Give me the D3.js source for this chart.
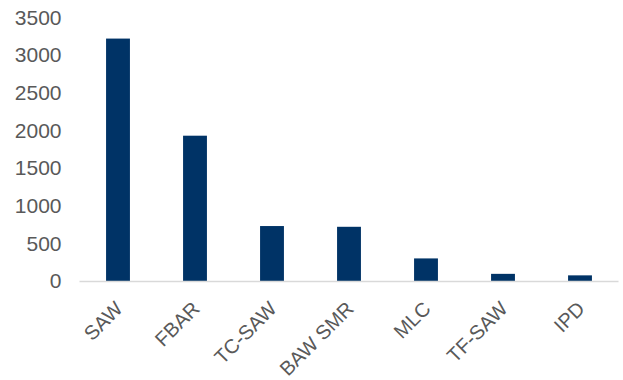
<!DOCTYPE html>
<html>
<head>
<meta charset="utf-8">
<script src="https://cdn.jsdelivr.net/npm/d3@7"></script>
<style>
  html, body { margin: 0; padding: 0; background: #fff; }
  svg { display: block; }
  text { font-family: "Liberation Sans", Arial, sans-serif; fill: #595959; }
</style>
</head>
<body>
<svg id="chart" width="623" height="380"></svg>
<script>
// Filter technologies and their values
const categories = ["SAW", "FBAR", "TC-SAW", "BAW SMR", "MLC", "TF-SAW", "IPD"];
const values = [3220, 1930, 730, 720, 300, 95, 75];
const yTicks = [0, 500, 1000, 1500, 2000, 2500, 3000, 3500];

const svg = d3.select("#chart");
const margin = { left: 79.5, right: 4.5, top: 17.5, bottom: 99 };
const W = 623, H = 380;

const x = d3.scaleBand()
  .domain(categories)
  .range([margin.left, W - margin.right])
  .paddingInner(0.69)
  .paddingOuter(0.345);

const y = d3.scaleLinear()
  .domain([0, 3500])
  .range([H - margin.bottom, margin.top]);

// Y axis labels (no axis line, no ticks)
const yAxis = svg.append("g")
  .attr("transform", `translate(${margin.left - 18},0)`)
  .call(d3.axisLeft(y).tickValues(yTicks).tickFormat(d3.format("d")).tickSize(0).tickPadding(0));
yAxis.select(".domain").remove();
yAxis.selectAll("text")
  .style("font-size", "21px")
  .attr("fill", "#595959")
  .style("font-family", "Liberation Sans, Arial, sans-serif");

// Bars
svg.append("g").selectAll("rect")
  .data(values)
  .join("rect")
  .attr("x", (d, i) => x(categories[i]))
  .attr("width", x.bandwidth())
  .attr("y", d => y(d))
  .attr("height", d => y(0) - y(d))
  .attr("fill", "#003366");

// Baseline
svg.append("line")
  .attr("x1", margin.left).attr("x2", W - margin.right)
  .attr("y1", y(0) + 0.5).attr("y2", y(0) + 0.5)
  .attr("stroke", "#d9d9d9").attr("stroke-width", 1.5);

// Category labels, rotated
const xAxis = svg.append("g")
  .attr("transform", `translate(0,${y(0)})`)
  .call(d3.axisBottom(x).tickSize(0).tickPadding(0));
xAxis.select(".domain").remove();
xAxis.selectAll("text")
  .style("font-size", "20px")
  .attr("fill", "#595959")
  .style("font-family", "Liberation Sans, Arial, sans-serif")
  .attr("text-anchor", "end")
  .attr("dy", "0.35em")
  .attr("y", 0)
  .attr("transform", "translate(1,24) rotate(-45)");
</script>
</body>
</html>
